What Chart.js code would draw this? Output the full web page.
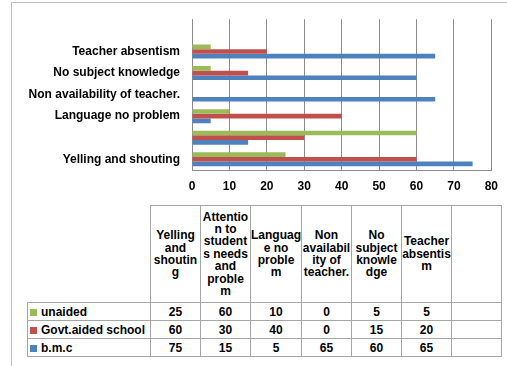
<!DOCTYPE html>
<html>
<head>
<meta charset="utf-8">
<script src="https://cdn.jsdelivr.net/npm/chart.js"></script>
<style>
  body { margin: 0; background: #fff; width: 507px; height: 366px; overflow: hidden; position: relative; font-family: "Liberation Sans", Arial, sans-serif; }
  #frame { position: absolute; left: 11px; top: 2px; width: 520px; height: 400px; border-left: 1px solid #bfbfbf; border-top: 1px solid #bfbfbf; }
  #wrap { position: absolute; left: 0; top: 0; width: 507px; height: 200px; }
  table { position: absolute; left: 27px; top: 205px; border-collapse: collapse; font-size: 12px; font-weight: bold; color: #000; }
  td { border: 1px solid #a6a6a6; text-align: center; padding: 0; }
  td.val { height: 17px; width: 49px; }
  td.head { height: 96px; width: 49px; line-height: 12.4px; }
  td.blank { border: none; }
  td.leg { width: 120px; text-align: left; padding-left: 2px; white-space: nowrap; }
  .sw { display: inline-block; width: 7px; height: 7px; margin-right: 4px; vertical-align: 0; }
</style>
</head>
<body>
<div id="frame"></div>
<div id="wrap"><canvas id="chart" width="507" height="200"></canvas></div>
<table id="tbl"></table>
<script>
const categories = ["Yelling and shouting", "Attention to students needs and problem", "Language no problem", "Non availability of teacher.", "No subject knowledge", "Teacher absentism", ""];
const axisLabels = ["Yelling and shouting", "", "Language no problem", "Non availability of teacher.", "No subject knowledge", "Teacher absentism", ""];
const headerLines = [
  ["Yelling", "and", "shoutin", "g"],
  ["Attentio", "n to", "student", "s needs", "and", "proble", "m"],
  ["Languag", "e no", "proble", "m"],
  ["Non", "availabil", "ity of", "teacher."],
  ["No", "subject", "knowle", "dge"],
  ["Teacher", "absentis", "m"],
  []
];
const seriesNames = ["unaided", "Govt.aided school", "b.m.c"];
const unaided = [25, 60, 10, 0, 5, 5, null];
const govtAided = [60, 30, 40, 0, 15, 20, null];
const bmc = [75, 15, 5, 65, 60, 65, null];
const xTicks = [0, 10, 20, 30, 40, 50, 60, 70, 80];

const colors = ["#9BBB59", "#C0504D", "#4F81BD"];
const seriesData = [unaided, govtAided, bmc];

new Chart(document.getElementById("chart"), {
  type: "bar",
  data: {
    labels: categories,
    datasets: seriesNames.map((name, i) => ({
      label: name,
      data: seriesData[i],
      backgroundColor: colors[i],
      borderWidth: 0,
      barPercentage: 1,
      categoryPercentage: 0.65
    }))
  },
  options: {
    indexAxis: "y",
    responsive: false,
    animation: false,
    layout: { padding: { top: 13, right: 13, left: 0, bottom: 0 } },
    plugins: { legend: { display: false }, tooltip: { enabled: false } },
    scales: {
      x: {
        min: 0,
        max: 80,
        afterBuildTicks: scale => { scale.ticks = xTicks.map(v => ({ value: v })); },
        afterFit: scale => { scale.height = 30; },
        grid: { color: "#8c8c8c", drawTicks: false },
        border: { color: "#8c8c8c" },
        ticks: { padding: 9, color: "#000", font: { family: "Liberation Sans", size: 12, weight: "bold" } }
      },
      y: {
        reverse: true,
        afterFit: scale => { scale.width = 192; },
        grid: { display: false, drawTicks: false },
        border: { color: "#8c8c8c" },
        ticks: {
          padding: 12,
          color: "#000",
          autoSkip: false,
          font: { family: "Liberation Sans", size: 12, weight: "bold" },
          callback: (v, i) => axisLabels[i]
        }
      }
    }
  }
});

// data table under the chart
const tbl = document.getElementById("tbl");
let html = "<tr><td class='blank'></td>";
headerLines.forEach(lines => { html += "<td class='head'>" + lines.join("<br>") + "</td>"; });
html += "</tr>";
seriesNames.forEach((name, i) => {
  html += "<tr><td class='val leg'><span class='sw' style='background:" + colors[i] + "'></span>" + name + "</td>";
  seriesData[i].forEach(v => { html += "<td class='val'>" + (v === null ? "" : v) + "</td>"; });
  html += "</tr>";
});
tbl.innerHTML = html;
</script>
</body>
</html>
